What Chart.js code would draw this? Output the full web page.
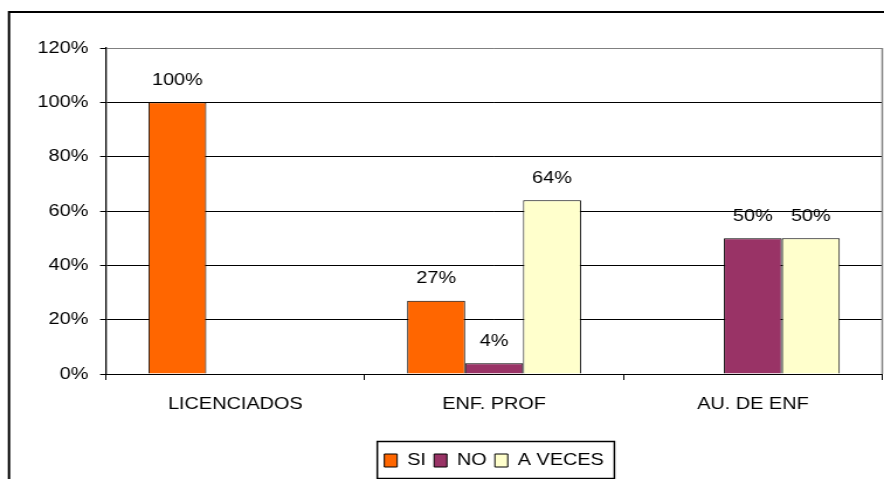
<!DOCTYPE html>
<html>
<head>
<meta charset="utf-8">
<script src="https://cdn.jsdelivr.net/npm/chart.js@4"></script>
<style>
    body { margin: 0; background: #fff; }
</style>
</head>
<body>
<!-- the chart is drawn narrower and stretched to 884px, like the original -->
<canvas id="chart1" width="756" height="479" style="width:884px;height:479px"></canvas>
<script>
// Data
const categories = ["LICENCIADOS", "ENF. PROF", "AU. DE ENF"];
const seriesNames = ["SI", "NO", "A VECES"];
const valuesSi = [100, 27, null];
const valuesNo = [null, 4, 50];
const valuesAVeces = [null, 64, 50];
const yTicks = [0, 20, 40, 60, 80, 100, 120];

// Outer frame + plot border
const framePlugin = {
    id: "frame",
    beforeDraw: (chart) => {
        const ctx = chart.ctx;
        ctx.save();
        ctx.strokeStyle = "#000";
        ctx.lineWidth = 2;
        ctx.beginPath();
        ctx.moveTo(7.7, chart.height);
        ctx.lineTo(7.7, 12);
        ctx.lineTo(chart.width, 12);
        ctx.stroke();
        ctx.restore();
    },
    afterDraw: (chart) => {
        const ctx = chart.ctx;
        const area = chart.chartArea;
        ctx.save();
        ctx.strokeStyle = "#808080";
        ctx.lineWidth = 1.5;
        ctx.beginPath();
        ctx.moveTo(area.right, area.top);
        ctx.lineTo(area.right, area.bottom);
        ctx.stroke();

        // legend border
        const boxes = chart.legend.legendHitBoxes;
        if (boxes.length > 0) {
            const first = boxes[0];
            const last = boxes[boxes.length - 1];
            const center = first.top + first.height / 2;
            const left = first.left - 6;
            const right = last.left + last.width + 9;
            ctx.strokeStyle = "#000";
            ctx.lineWidth = 1.5;
            ctx.strokeRect(left, center - 19, right - left, 37);
        }
        ctx.restore();
    }
};

// Value labels above bars
const valueLabelPlugin = {
    id: "valueLabels",
    afterDatasetsDraw: (chart) => {
        const ctx = chart.ctx;
        ctx.save();
        ctx.font = "17px 'Liberation Sans', Arial, sans-serif";
        ctx.fillStyle = "#000";
        ctx.textAlign = "center";
        ctx.textBaseline = "middle";
        chart.data.datasets.forEach((dataset, i) => {
            chart.getDatasetMeta(i).data.forEach((bar, j) => {
                const value = dataset.data[j];
                if (value === null || value === undefined) return;
                ctx.fillText(value + "%", bar.x, bar.y - 22);
            });
        });
        ctx.restore();
    }
};

Chart.defaults.font.family = "'Liberation Sans', Arial, sans-serif";
Chart.defaults.font.size = 17;
Chart.defaults.color = "#000";

const chart1 = document.querySelector("#chart1");
if (chart1) {
    new Chart(chart1, {
        type: "bar",
        data: {
            labels: categories,
            datasets: [
                {
                    label: seriesNames[0],
                    data: valuesSi,
                    backgroundColor: "#FF6600",
                    borderColor: "#000",
                    borderWidth: 1
                },
                {
                    label: seriesNames[1],
                    data: valuesNo,
                    backgroundColor: "#993366",
                    borderColor: "#000",
                    borderWidth: 1
                },
                {
                    label: seriesNames[2],
                    data: valuesAVeces,
                    backgroundColor: "#FFFFCC",
                    borderColor: "#000",
                    borderWidth: 1
                }
            ]
        },
        options: {
            responsive: false,
            devicePixelRatio: 1,
            animation: false,
            categoryPercentage: 0.672,
            barPercentage: 1,
            layout: {
                padding: { top: 48, right: 1.5, bottom: 0, left: 0 }
            },
            plugins: {
                legend: {
                    position: "bottom",
                    fullSize: false,
                    labels: {
                        boxWidth: 11,
                        boxHeight: 13,
                        padding: 7,
                        color: "#000"
                    }
                },
                tooltip: { enabled: false }
            },
            scales: {
                x: {
                    grid: {
                        offset: true,
                        drawOnChartArea: false,
                        tickLength: 6,
                        color: "#000"
                    },
                    border: { color: "#000", width: 1 },
                    ticks: { padding: 14 },
                    afterFit: (scale) => { scale.height = 71; }
                },
                y: {
                    min: 0,
                    max: 120,
                    afterBuildTicks: (scale) => {
                        scale.ticks = yTicks.map(v => ({ value: v }));
                    },
                    ticks: {
                        padding: 10,
                        callback: (value) => value + "%"
                    },
                    grid: {
                        color: (c) => c.tick && c.tick.value === 120 ? "#808080" : "#000",
                        tickColor: "#000",
                        tickLength: 5,
                        lineWidth: 1
                    },
                    border: { color: "#000", width: 1.3 },
                    afterFit: (scale) => { scale.width = 90.6; }
                }
            }
        },
        plugins: [framePlugin, valueLabelPlugin]
    });
}
</script>
</body>
</html>
